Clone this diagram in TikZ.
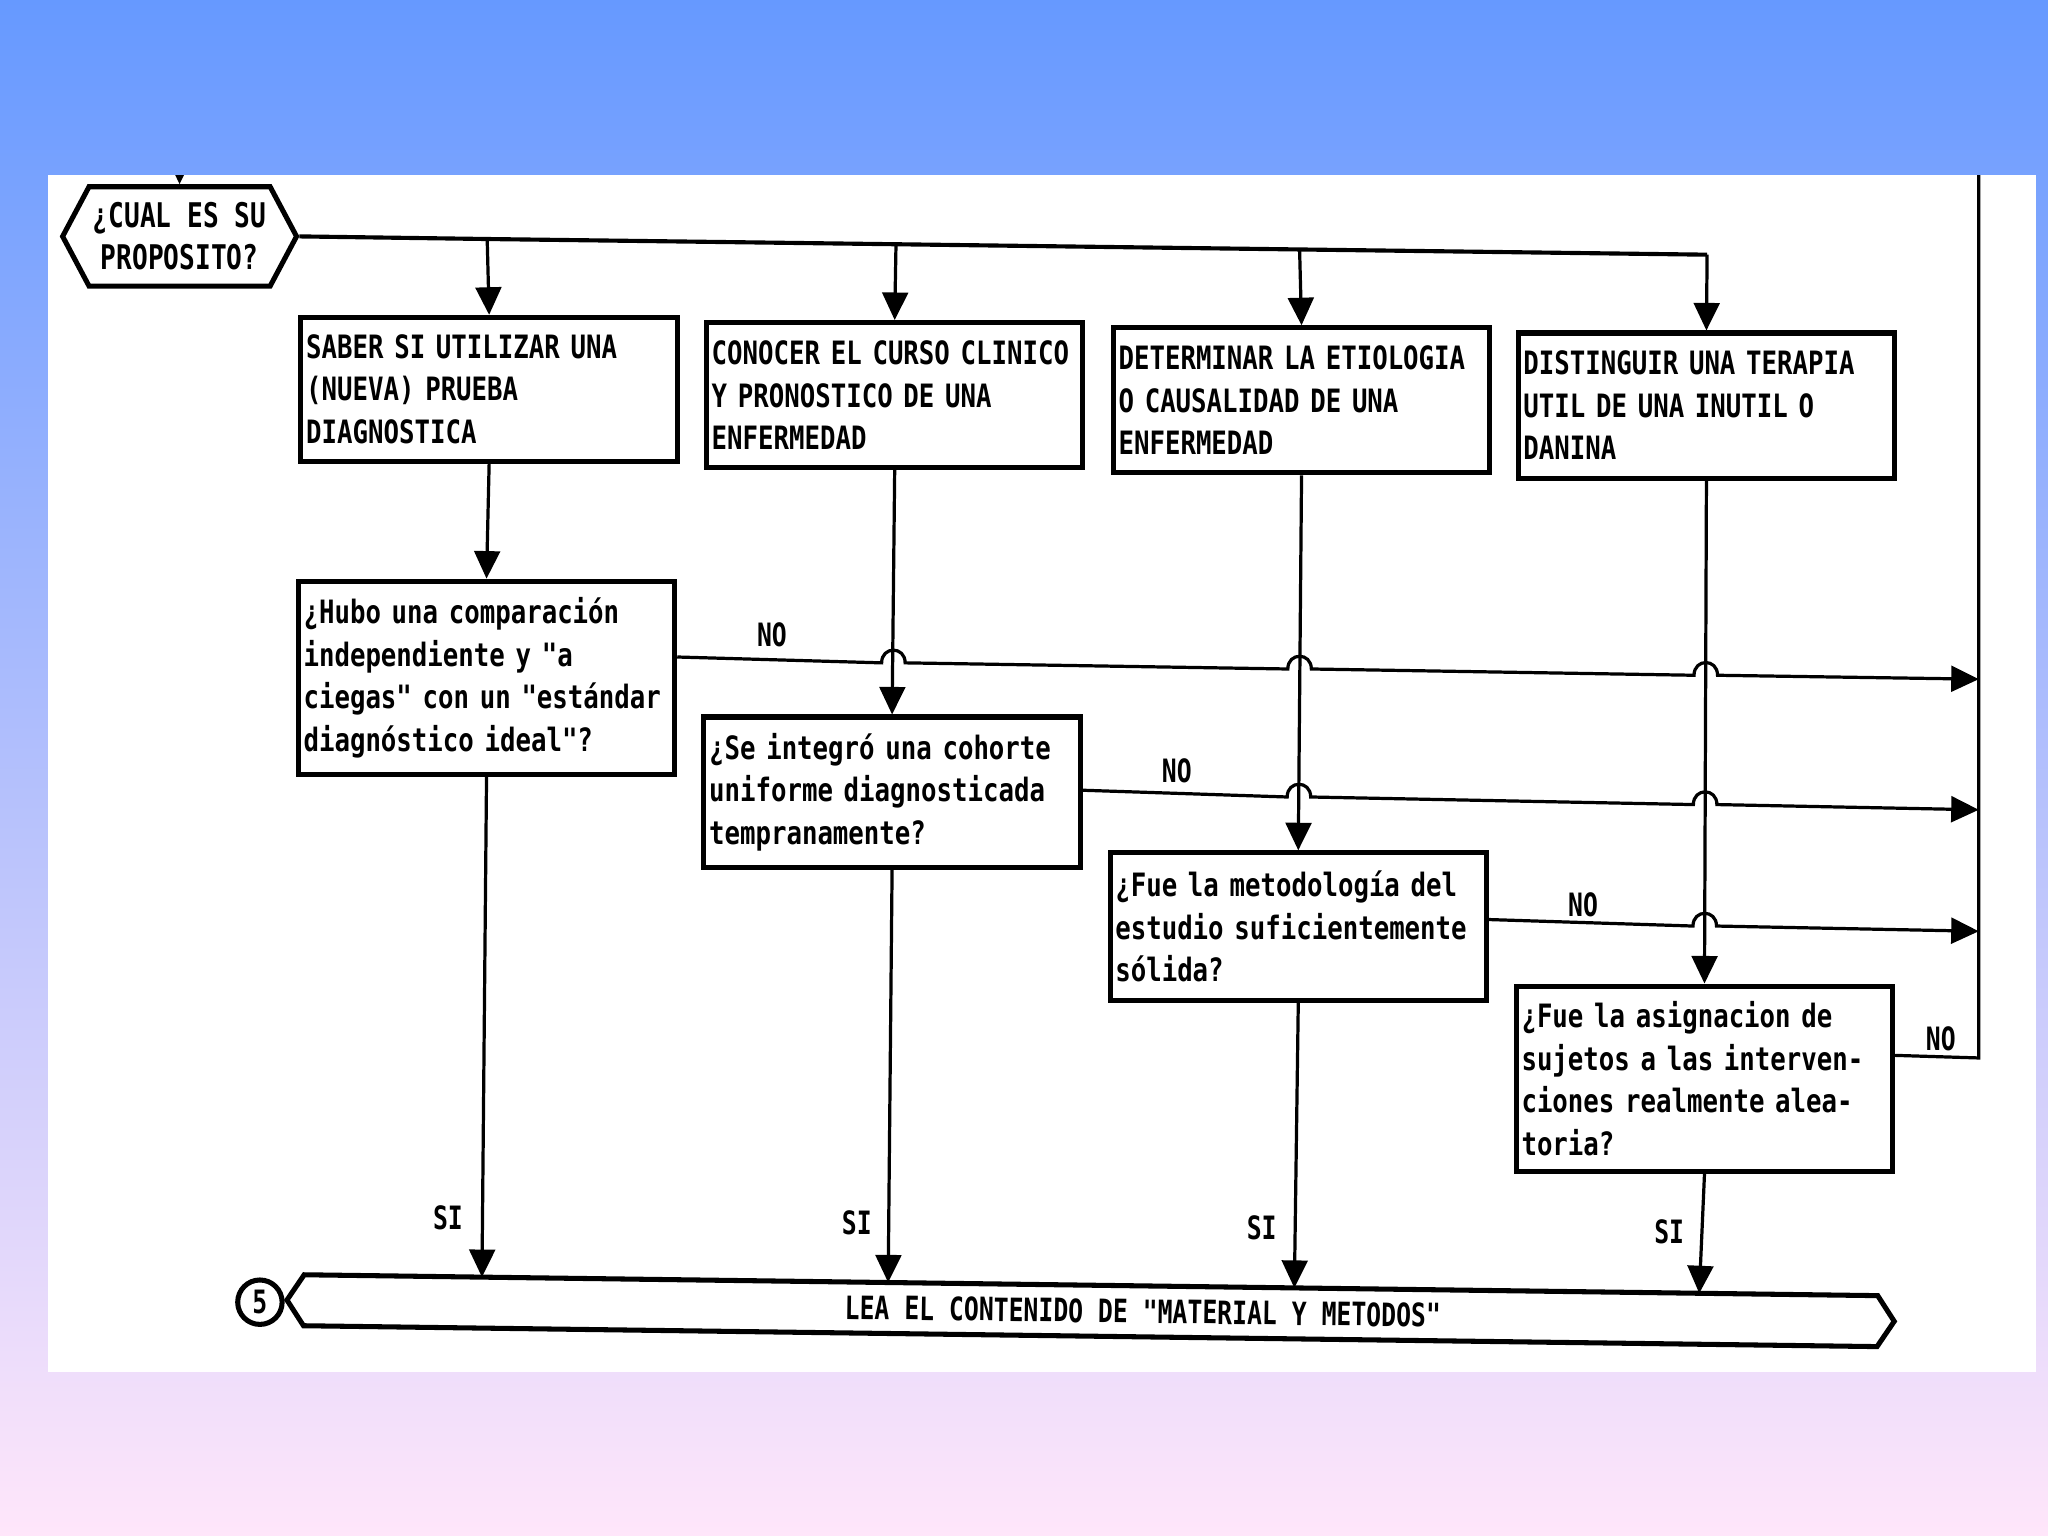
\documentclass[tikz,border=0pt]{standalone}
\usepackage{fontspec}
\newfontfamily\scan[FakeStretch=0.80]{DejaVu Sans Mono}
\newfontfamily\scann[FakeStretch=0.77]{DejaVu Sans Mono}
\usetikzlibrary{arrows.meta,shapes.symbols,calc}
\definecolor{bgtop}{RGB}{102,153,255}
\definecolor{bgbot}{RGB}{255,230,250}
\newcommand\hopx[2]{-- ({#1-9},#2) .. controls ({#1-9},{#2-13}) and ({#1+9},{#2-13}) .. ({#1+9},#2)}
\begin{document}
\begin{tikzpicture}[x=0.01cm,y=-0.01cm,
  txt/.style={font=\scan\bfseries\fontsize{7}{9.25}\selectfont},
  txtn/.style={font=\scann\bfseries\fontsize{7}{9.25}\selectfont},
  boxn/.style={txt, draw, line width=1.1pt, rectangle, minimum width=2.88cm,
    text width=2.80cm, inner xsep=0.04cm, inner ysep=0pt, align=left},
  term/.style={txtn, signal, signal to=west and east, draw, line width=1.1pt, inner sep=0pt},
  conn/.style={line width=0.7pt},
  arr/.style={conn, -{Triangle[length=6pt,width=5.6pt]}},
  lbl/.style={txtn, inner sep=0pt},
]
\useasboundingbox (0,0) rectangle (1568,1176);
\shade[top color=bgtop, bottom color=bgbot] (0,0) rectangle (1568,1176);
\fill[white] (36.75,134) rectangle (1559,1050.5);

% start hexagon
\node[term, signal pointer angle=124, minimum width=1.79cm, minimum height=0.76cm,
  align=center, font=\scann\bfseries\fontsize{7.4}{9.1}\selectfont] (hex) at (137.5,181) {¿CUAL ES SU\\PROPOSITO?};

% purpose boxes
\node[boxn, minimum height=1.10cm] (b1) at (374.5,298) {SABER SI UTILIZAR UNA\\(NUEVA) PRUEBA\\DIAGNOSTICA};
\node[boxn, minimum height=1.11cm] (b2) at (685,302.5) {CONOCER EL CURSO CLINICO\\Y PRONOSTICO DE UNA\\ENFERMEDAD};
\node[boxn, minimum height=1.11cm] (b3) at (996.5,306.5) {DETERMINAR LA ETIOLOGIA\\O CAUSALIDAD DE UNA\\ENFERMEDAD};
\node[boxn, minimum height=1.11cm] (b4) at (1306.5,310.5) {DISTINGUIR UNA TERAPIA\\UTIL DE UNA INUTIL O\\DANINA};

% question boxes
\node[boxn, minimum height=1.48cm] (q1) at (372.5,519) {¿Hubo una comparación\\independiente y "a\\ciegas" con un "estándar\\diagnóstico ideal"?};
\node[boxn, minimum height=1.15cm] (q2) at (683,606.5) {¿Se integró una cohorte\\uniforme diagnosticada\\tempranamente?};
\node[boxn, minimum height=1.13cm] (q3) at (994,709.5) {¿Fue la metodología del\\estudio suficientemente\\sólida?};
\node[boxn, minimum height=1.42cm] (q4) at (1305,826) {¿Fue la asignacion de\\sujetos a las interven-\\ciones realmente alea-\\toria?};

% terminator
\node[term, signal pointer angle=113, minimum width=12.30cm, minimum height=0.39cm, rotate=-0.76] (end) at (835,1003.5)
  {\hspace*{0.8cm}LEA EL CONTENIDO DE "MATERIAL Y METODOS"};
\node[txtn, circle, draw, line width=1.1pt, minimum size=0.34cm, inner sep=0pt] (five) at (199,997) {5};

% coordinates
\coordinate (in) at (137.5,100);
\coordinate (t1) at (373,183);
\coordinate (t2) at (686,187);
\coordinate (t3) at (995,191);
\coordinate (t4) at (1307,195);
\coordinate (e1) at (1515,520);
\coordinate (e2) at (1515,620);
\coordinate (e3) at (1515,713);
\coordinate (rq) at (1515,810);
\coordinate (rtop) at (1515,134);
\coordinate (s1) at (369,977.8);
\coordinate (s2) at (680,981.9);
\coordinate (s3) at (991,986.1);
\coordinate (s4) at (1301,990.2);

% incoming arrow
\begin{scope}
\clip (36.75,134) rectangle (1559,1050.5);
\draw[arr] (in) -- (hex.north);
\end{scope}

% branches
\draw[conn, line width=0.9pt] (hex.east) -- (t1) -- (t2) -- (t3) -- (t4);
\draw[arr] (t1) -- (b1.north);
\draw[arr] (t2) -- (b2.north);
\draw[arr] (t3) -- (b3.north);
\draw[arr] (t4) -- (b4.north);

\draw[arr] (b1.south) -- (q1.north);
\draw[arr] (b2.south) -- (q2.north);
\draw[arr] (b3.south) -- (q3.north);
\draw[arr] (b4.south) -- (q4.north);

% NO branches
\draw[arr] ($(q1.north east)+(0,60)$) \hopx{684}{507.5} \hopx{995}{512.2} \hopx{1306}{517} -- (e1);
\draw[arr] ($(q2.north east)+(0,58)$) \hopx{994.5}{610.2} \hopx{1305.5}{616} -- (e2);
\draw[arr] ($(q3.north east)+(0,53)$) \hopx{1305.2}{709} -- (e3);
\draw[conn] ($(q4.north east)+(0,55)$) -- (rq) -- (rtop);

\node[lbl] (no1) at (591,486) {NO};
\node[lbl] (no2) at (901,590) {NO};
\node[lbl] (no3) at (1212,693) {NO};
\node[lbl] (no4) at (1486,795) {NO};

% SI branches
\draw[arr] (q1.south) -- (s1);
\draw[arr] (q2.south) -- (s2);
\draw[arr] (q3.south) -- (s3);
\draw[arr] (q4.south) -- (s4);

\node[lbl] (si1) at (343,932) {SI};
\node[lbl] (si2) at (656,936) {SI};
\node[lbl] (si3) at (966,940) {SI};
\node[lbl] (si4) at (1278,943) {SI};
\end{tikzpicture}
\end{document}
